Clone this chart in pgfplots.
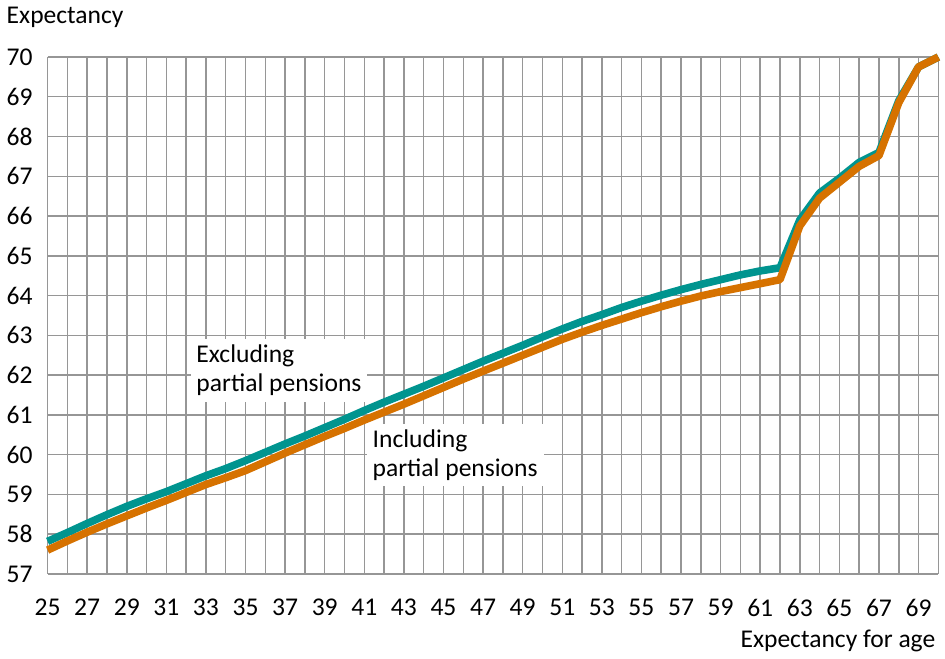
\documentclass[border=0pt]{standalone}
\usepackage{fontspec}
\setmainfont{Carlito}
\usepackage{pgfplots}
\pgfplotsset{compat=1.18}
\definecolor{tealc}{RGB}{0,148,143}
\definecolor{orangec}{RGB}{214,114,0}
\definecolor{gridc}{RGB}{150,150,150}
\begin{document}
\begin{tikzpicture}
\begin{axis}[
  scale only axis,
  width=446.25pt, height=259pt,
  xmin=25, xmax=70, ymin=57, ymax=70,
  xtick={25,...,70},
  xticklabels={25,,27,,29,,31,,33,,35,,37,,39,,41,,43,,45,,47,,49,,51,,53,,55,,57,,59,,61,,63,,65,,67,,69,},
  ytick={57,...,70},
  xmajorgrids, ymajorgrids,
  major grid style={gridc, line width=0.75pt},
  axis line style={draw=none},
  tick style={draw=none},
  tick label style={font=\fontsize{12.8pt}{14pt}\selectfont},
  /pgf/number format/assume math mode=true,
  xticklabel style={yshift=-9pt},
  yticklabel style={xshift=-4pt},
  clip=false,
]
\addplot[tealc, line width=3.8pt, line join=round] coordinates {
(25,57.82)(26,58.04)(27,58.27)(28,58.49)(29,58.7)(30,58.89)(31,59.07)(32,59.27)(33,59.47)(34,59.65)(35,59.85)
(36,60.06)(37,60.27)(38,60.47)(39,60.68)(40,60.89)(41,61.11)(42,61.32)(43,61.52)(44,61.72)(45,61.93)
(46,62.14)(47,62.35)(48,62.55)(49,62.75)(50,62.96)(51,63.16)(52,63.35)(53,63.52)(54,63.7)(55,63.86)
(56,64.01)(57,64.15)(58,64.28)(59,64.4)(60,64.52)(61,64.62)(62,64.7)(63,65.9)(64,66.58)(65,66.95)
(66,67.35)(67,67.6)(68,68.9)(69,69.75)(70,70.0)};
\addplot[orangec, line width=3.8pt, line join=round] coordinates {
(25,57.6)(26,57.83)(27,58.05)(28,58.26)(29,58.46)(30,58.66)(31,58.85)(32,59.05)(33,59.25)(34,59.42)(35,59.6)
(36,59.82)(37,60.04)(38,60.25)(39,60.46)(40,60.66)(41,60.87)(42,61.07)(43,61.27)(44,61.48)(45,61.69)
(46,61.9)(47,62.1)(48,62.3)(49,62.5)(50,62.7)(51,62.9)(52,63.08)(53,63.25)(54,63.41)(55,63.57)
(56,63.72)(57,63.86)(58,63.99)(59,64.1)(60,64.2)(61,64.3)(62,64.4)(63,65.75)(64,66.45)(65,66.85)
(66,67.25)(67,67.52)(68,68.85)(69,69.75)(70,70.0)};
\node[anchor=north west, fill=white, align=left, inner sep=3pt, font=\fontsize{12.8pt}{14.5pt}\selectfont]
  at (axis cs:32.2,62.92) {Excluding\\partial pensions};
\node[anchor=north west, fill=white, align=left, inner sep=3pt, font=\fontsize{12.8pt}{14.5pt}\selectfont]
  at (axis cs:41.1,60.79) {Including\\partial pensions};
\node[anchor=base west, font=\fontsize{12.8pt}{14pt}\selectfont] at ([xshift=-24pt,yshift=17pt]rel axis cs:0,1) {Expectancy};
\node[anchor=base east, font=\fontsize{12.8pt}{14pt}\selectfont] at ([xshift=2pt,yshift=-37pt]rel axis cs:1,0) {Expectancy for age};
\end{axis}
\end{tikzpicture}
\end{document}
